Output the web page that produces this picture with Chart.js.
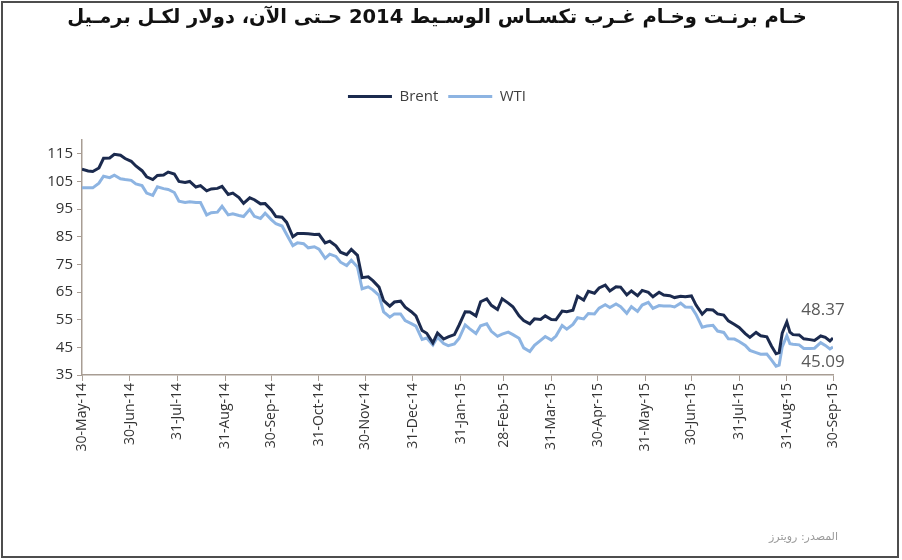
<!DOCTYPE html>
<html><head><meta charset="utf-8">
<script src="https://cdn.jsdelivr.net/npm/chart.js@4"></script>
<style>html,body{margin:0;padding:0;background:#fff}#wrap{width:902px;height:560px;position:relative}</style>
</head><body><div id="wrap"><canvas id="c" width="902" height="560"></canvas></div>
<script>
const titleText = 'خـام برنـت وخـام غـرب تكسـاس الوسـيط 2014 حـتى الآن، دولار لكـل برمـيل';
const sourceText = 'المصدر: رويترز';
const seriesNames = ['Brent', 'WTI'];
const dates = [
'2014-05-30','2014-06-03','2014-06-06','2014-06-10','2014-06-13','2014-06-17','2014-06-20','2014-06-24','2014-06-27',
'2014-07-01','2014-07-04','2014-07-08','2014-07-11','2014-07-15','2014-07-18','2014-07-22','2014-07-25','2014-07-29',
'2014-08-01','2014-08-05','2014-08-08','2014-08-12','2014-08-15','2014-08-19','2014-08-22','2014-08-26','2014-08-29',
'2014-09-02','2014-09-05','2014-09-09','2014-09-12','2014-09-16','2014-09-19','2014-09-23','2014-09-26','2014-09-30',
'2014-10-03','2014-10-07','2014-10-10','2014-10-14','2014-10-17','2014-10-21','2014-10-24','2014-10-28','2014-10-31',
'2014-11-04','2014-11-07','2014-11-11','2014-11-14','2014-11-18','2014-11-21','2014-11-25','2014-11-28',
'2014-12-02','2014-12-05','2014-12-09','2014-12-12','2014-12-16','2014-12-19','2014-12-23','2014-12-26','2014-12-30',
'2015-01-02','2015-01-06','2015-01-09','2015-01-13','2015-01-16','2015-01-20','2015-01-23','2015-01-27','2015-01-30',
'2015-02-03','2015-02-06','2015-02-10','2015-02-13','2015-02-17','2015-02-20','2015-02-24','2015-02-27',
'2015-03-03','2015-03-06','2015-03-10','2015-03-13','2015-03-17','2015-03-20','2015-03-24','2015-03-27','2015-03-31',
'2015-04-03','2015-04-07','2015-04-10','2015-04-14','2015-04-17','2015-04-21','2015-04-24','2015-04-28',
'2015-05-01','2015-05-05','2015-05-08','2015-05-12','2015-05-15','2015-05-19','2015-05-22','2015-05-26','2015-05-29',
'2015-06-02','2015-06-05','2015-06-09','2015-06-12','2015-06-16','2015-06-19','2015-06-23','2015-06-26','2015-06-30',
'2015-07-03','2015-07-07','2015-07-10','2015-07-14','2015-07-17','2015-07-21','2015-07-24','2015-07-28','2015-07-31',
'2015-08-04','2015-08-07','2015-08-11','2015-08-14','2015-08-18','2015-08-21','2015-08-24','2015-08-26','2015-08-28','2015-08-31',
'2015-09-02','2015-09-04','2015-09-08','2015-09-11','2015-09-15','2015-09-18','2015-09-22','2015-09-25','2015-09-28','2015-09-30'
];
const brent = [
109.4,108.8,108.6,109.9,113.4,113.5,114.8,114.5,113.3,
112.3,110.6,108.9,106.7,105.7,107.2,107.3,108.4,107.7,
105.0,104.6,105.0,103.0,103.5,101.6,102.3,102.5,103.2,
100.3,100.8,99.2,97.1,99.1,98.4,96.9,97.0,94.7,
92.3,92.1,90.2,85.0,86.2,86.2,86.1,85.8,85.9,
82.8,83.4,81.7,79.4,78.5,80.4,78.3,70.2,
70.5,69.1,66.8,61.9,59.9,61.4,61.7,59.5,57.9,
56.4,51.1,50.1,46.6,50.2,48.0,48.8,49.6,53.0,
57.9,57.8,56.4,61.5,62.5,60.2,58.7,62.6,
61.0,59.7,56.4,54.7,53.5,55.3,55.1,56.4,55.1,
55.0,58.1,57.9,58.4,63.5,62.1,65.3,64.6,
66.5,67.5,65.4,66.9,66.8,64.0,65.4,63.7,65.6,
64.9,63.3,64.9,63.9,63.7,63.0,63.5,63.3,63.6,
60.3,57.0,58.7,58.5,57.1,56.7,54.6,53.3,52.2,
50.0,48.6,50.4,49.2,48.8,45.5,42.7,43.1,50.1,54.2,
50.5,49.6,49.5,48.1,47.8,47.5,49.1,48.6,47.3,48.37
];
const wti = [
102.7,102.7,102.7,104.4,106.9,106.4,107.3,106.0,105.7,
105.4,104.1,103.5,100.8,100.0,103.1,102.4,102.1,101.0,
97.9,97.4,97.7,97.4,97.4,92.9,93.7,93.9,96.0,
92.9,93.3,92.7,92.3,94.9,92.4,91.6,93.5,91.2,
89.7,88.9,85.8,81.8,82.8,82.5,81.0,81.4,80.5,
77.2,78.7,77.9,75.8,74.6,76.5,74.1,66.2,
66.9,65.8,63.8,57.8,55.9,57.1,57.1,54.7,53.6,
52.7,47.9,48.4,45.9,48.7,46.4,45.6,46.2,48.2,
53.1,51.7,50.0,52.8,53.5,50.8,49.0,49.8,
50.5,49.6,48.3,44.8,43.5,45.7,47.5,48.9,47.6,
49.1,52.9,51.6,53.3,55.7,55.3,57.2,57.1,
59.2,60.4,59.4,60.7,59.7,57.3,59.7,58.0,60.3,
61.3,59.1,60.1,60.0,60.0,59.6,61.0,59.6,59.5,
56.9,52.3,52.7,53.0,50.9,50.4,48.1,48.0,47.1,
45.7,43.9,43.1,42.5,42.6,40.5,38.2,38.6,45.2,49.2,
46.3,46.1,45.9,44.6,44.6,44.7,46.7,45.7,44.4,45.09
];
const tickDates = ['2014-05-30','2014-06-30','2014-07-31','2014-08-31','2014-09-30','2014-10-31','2014-11-30','2014-12-31',
'2015-01-31','2015-02-28','2015-03-31','2015-04-30','2015-05-31','2015-06-30','2015-07-31','2015-08-31','2015-09-30'];
const tickLabels = ['30-May-14','30-Jun-14','31-Jul-14','31-Aug-14','30-Sep-14','31-Oct-14','30-Nov-14','31-Dec-14',
'31-Jan-15','28-Feb-15','31-Mar-15','30-Apr-15','31-May-15','30-Jun-15','31-Jul-15','31-Aug-15','30-Sep-15'];
const yTicks = [35, 45, 55, 65, 75, 85, 95, 105, 115];
const endLabels = ['48.37', '45.09'];

const t0 = Date.parse(dates[0]);
const dayOf = d => (Date.parse(d) - t0) / 86400000;
const axisColor = '#a89d94';
const FONT = "'Open Sans', 'DejaVu Sans', sans-serif";

const extras = {
  id: 'extras',
  beforeInit(chart) {
    if (chart.legend) {
      const fit = chart.legend.fit;
      chart.legend.fit = function () { fit.call(this); this.height += 26; };
    }
  },
  afterDraw(chart) {
    const ctx = chart.ctx;
    ctx.save();
    ctx.font = '17px ' + FONT;
    ctx.fillStyle = '#595959';
    ctx.textAlign = 'center';
    ctx.textBaseline = 'middle';
    const offs = [-28, 15];
    chart.data.datasets.forEach((ds, i) => {
      const pts = chart.getDatasetMeta(i).data;
      const p = pts[pts.length - 1];
      ctx.fillText(endLabels[i], p.x - 10, p.y + offs[i]);
    });
    ctx.font = '11px "DejaVu Sans", sans-serif';
    ctx.fillStyle = '#9a9a9a';
    ctx.textAlign = 'right';
    ctx.fillText(sourceText, 838, 537);
    ctx.strokeStyle = '#4d4d4d';
    ctx.lineWidth = 2;
    ctx.strokeRect(2, 2, 896, 555);
    ctx.restore();
  }
};

new Chart(document.getElementById('c'), {
  type: 'line',
  data: {
    datasets: [
      { label: seriesNames[0], data: dates.map((d, i) => ({ x: dayOf(d), y: brent[i] })),
        borderColor: '#1b2a4e', backgroundColor: '#1b2a4e', borderWidth: 3, pointRadius: 0, tension: 0, order: 0 },
      { label: seriesNames[1], data: dates.map((d, i) => ({ x: dayOf(d), y: wti[i] })),
        borderColor: '#8db4e2', backgroundColor: '#8db4e2', borderWidth: 3, pointRadius: 0, tension: 0, order: 1 }
    ]
  },
  options: {
    responsive: false,
    animation: false,
    devicePixelRatio: 1,
    layout: { padding: { left: 0, right: 28, top: 0, bottom: 0 } },
    plugins: {
      title: {
        display: true, text: titleText, color: '#111',
        font: { family: "'DejaVu Sans', sans-serif", size: 19.5, weight: 'bold' },
        padding: { top: 6.3, bottom: 49.3 }
      },
      legend: {
        display: true, position: 'top',
        labels: { usePointStyle: true, pointStyle: 'line', pointStyleWidth: 44, color: '#404040',
          font: { family: FONT, size: 15 }, padding: 10 }
      },
      tooltip: { enabled: false }
    },
    scales: {
      x: {
        type: 'linear', min: 0, max: dayOf('2015-09-30'),
        afterBuildTicks: s => { s.ticks = tickDates.map(d => ({ value: dayOf(d) })); },
        afterFit: s => { s.height = 185; },
        ticks: { autoSkip: false, minRotation: 90, maxRotation: 90, padding: 2, color: '#333',
          font: { family: FONT, size: 14 }, callback: (v, i) => tickLabels[i] },
        grid: { drawOnChartArea: false, drawTicks: true, tickLength: 6, color: axisColor },
        border: { color: axisColor, width: 1.5 }
      },
      y: {
        min: 35, max: 120,
        afterBuildTicks: s => { s.ticks = yTicks.map(v => ({ value: v })); },
        afterFit: s => { s.width = 82; },
        ticks: { padding: 4, color: '#333', font: { family: FONT, size: 15 }, callback: v => v },
        grid: { drawOnChartArea: false, drawTicks: true, tickLength: 5, color: axisColor },
        border: { color: axisColor, width: 1.5 }
      },
      yr: {
        position: 'right', display: true,
        afterFit: s => { s.width = 41; },
        ticks: { display: false },
        grid: { display: false },
        border: { display: false }
      }
    }
  },
  plugins: [extras]
});
</script></body></html>
